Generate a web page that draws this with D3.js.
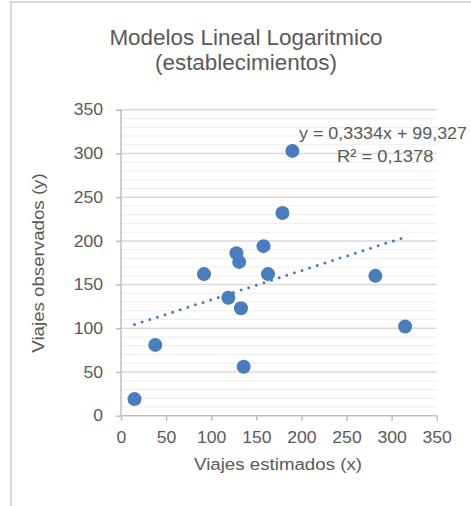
<!DOCTYPE html>
<html>
<head>
<meta charset="utf-8">
<script src="https://cdn.jsdelivr.net/npm/d3@7/dist/d3.min.js"></script>
<style>
  html, body { margin: 0; padding: 0; background: #ffffff; }
  svg { display: block; font-family: "Liberation Sans", Arial, sans-serif; }
</style>
</head>
<body>
<svg id="chart" width="471" height="506"></svg>
<script>
// Estimated vs observed trips per establishment
const estimados  = [15, 38, 136, 119, 133, 92, 128, 131, 158, 163, 179, 190, 282, 315];
const observados = [19, 81, 56, 135, 123, 162, 186, 176, 194, 162, 232, 303, 160, 102];

// Linear trendline reported on the chart
const slope = 0.3334;
const intercept = 99.327;
const r2 = 0.1378;

const xTicks = [0, 50, 100, 150, 200, 250, 300, 350];
const yTicks = [0, 50, 100, 150, 200, 250, 300, 350];
const minorStep = 10;

const titleLines = ["Modelos Lineal Logaritmico", "(establecimientos)"];
const xTitle = "Viajes estimados (x)";
const yTitle = "Viajes observados (y)";

const svg = d3.select("#chart");
const textColor = "#595959";
const dotColor = "#4a7dbd";
const stretch = 1.1; // slightly wide lettering

// Chart frame edges
svg.append("rect").attr("x", 9).attr("y", 1).attr("width", 462).attr("height", 2).attr("fill", "#d9d9d9");
svg.append("rect").attr("x", 10).attr("y", 1).attr("width", 2).attr("height", 505).attr("fill", "#d9d9d9");

const x = d3.scaleLinear().domain([0, 350]).range([121, 436.7]);
const y = d3.scaleLinear().domain([0, 350]).range([415.7, 109.8]);

// Minor gridlines
const minor = d3.range(0, 351, minorStep).filter(v => v % 50 !== 0);
svg.append("g").selectAll("line").data(minor).join("line")
  .attr("x1", x(0)).attr("x2", x(350))
  .attr("y1", d => y(d)).attr("y2", d => y(d))
  .attr("stroke", "#ededed").attr("stroke-width", 1);

// Major gridlines
svg.append("g").selectAll("line").data(yTicks.filter(v => v > 0)).join("line")
  .attr("x1", x(0)).attr("x2", x(350))
  .attr("y1", d => y(d)).attr("y2", d => y(d))
  .attr("stroke", "#d9d9d9").attr("stroke-width", 1.5);

// Axes
const xAxis = d3.axisBottom(x).tickValues(xTicks).tickSize(5).tickPadding(11).tickFormat(d3.format("d"));
const yAxis = d3.axisLeft(y).tickValues(yTicks).tickSize(5).tickPadding(13).tickFormat(d3.format("d"));

const gx = svg.append("g").attr("transform", `translate(0,${y(0)})`).call(xAxis);
const gy = svg.append("g").attr("transform", `translate(${x(0)},0)`).call(yAxis);
[gx, gy].forEach(g => {
  g.select(".domain").attr("stroke", "#bfbfbf").attr("stroke-width", 1.5);
  g.selectAll(".tick line").attr("stroke", "#bfbfbf").attr("stroke-width", 1.5);
  g.selectAll(".tick text").attr("fill", textColor)
    .style("font-family", "'Liberation Sans', Arial, sans-serif").style("font-size", "16px");
});
gy.select(".domain").attr("d", `M0,${y(0)}V${y(350)}`);
gx.select(".domain").attr("d", `M0,0H${x(350) - x(0)}`).attr("transform", `translate(${x(0)},0)`);

// Widen tick labels around their anchor points
gx.selectAll(".tick text").attr("transform", `scale(${stretch},1)`);
gy.selectAll(".tick text").each(function () {
  const t = d3.select(this);
  const ax = +t.attr("x");
  t.attr("x", 0).attr("transform", `translate(${ax},0) scale(${stretch},1)`);
});

// Trendline across the range of the data
const xMin = d3.min(estimados), xMax = d3.max(estimados);
svg.append("line")
  .attr("x1", x(xMin)).attr("y1", y(slope * xMin + intercept))
  .attr("x2", x(xMax)).attr("y2", y(slope * xMax + intercept))
  .attr("stroke", dotColor).attr("stroke-width", 3)
  .attr("stroke-linecap", "round").attr("stroke-dasharray", "0 8");

// Points
svg.append("g").selectAll("circle").data(d3.zip(estimados, observados)).join("circle")
  .attr("cx", d => x(d[0])).attr("cy", d => y(d[1])).attr("r", 7)
  .attr("fill", dotColor);

// Helper for stretched text placed at an anchor point
function label(px, py, str, size, anchor, sx, rot) {
  return svg.append("text")
    .attr("transform", `translate(${px},${py})${rot ? ` rotate(${rot})` : ""} scale(${sx},1)`)
    .attr("text-anchor", anchor).attr("fill", textColor)
    .style("font-size", size + "px").text(str);
}

// Title
titleLines.forEach((line, i) => label(246, 45 + i * 25, line, 22, "middle", 1.02));

// Axis titles
label(278, 470, xTitle, 17, "middle", stretch);
label(44, 263, yTitle, 17, "middle", stretch, -90);

// Trendline equation, fitted to the space right of the plot
const fmt = v => String(v).replace(".", ",");
svg.append("text").attr("x", 299).attr("y", 138.5)
  .attr("fill", textColor).style("font-size", "17px")
  .attr("textLength", 168).attr("lengthAdjust", "spacingAndGlyphs")
  .text(`y = ${fmt(slope)}x + ${fmt(intercept)}`);
label(433.5, 161.5, `R² = ${fmt(r2)}`, 17, "end", 1.08);
</script>
</body>
</html>
